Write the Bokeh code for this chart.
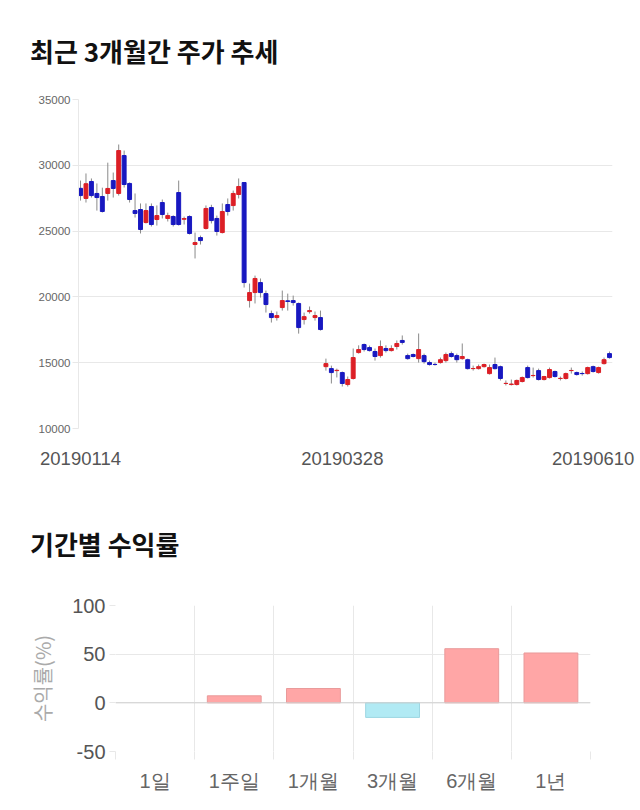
from bokeh.plotting import figure
from bokeh.models import ColumnDataSource, FixedTicker, Div, Span, Range1d
from bokeh.layouts import column
from bokeh.embed import file_html
from bokeh.resources import INLINE

# ---- data: daily candles ----
opens = [28250, 27480, 28770, 27860, 27630, 27860, 28840, 27860, 30740, 28620,
         26560, 26640, 25650, 26870, 25880, 27170, 25960, 26110, 27930, 25900,
         26110, 23980, 24510, 25200, 26790, 25960, 24890, 27020, 26940, 27780,
         28690, 19720, 20330, 21090, 20250, 18730, 18430, 19190, 19700, 19720,
         19500, 18280, 18880, 18430, 18430, 14700, 14550, 14400, 14250, 13340,
         13800, 15770, 16380, 16150, 15850, 15540, 16080, 15920, 16230, 16690,
         15540, 15620, 15310, 15540, 15010, 14870, 15010, 15160, 15690, 15540,
         15310, 15230, 14550, 14550, 14700, 14170, 14860, 14700, 13420, 13340,
         13340, 13570, 14630, 14020, 14400, 13720, 13870, 14330, 13800, 13800,
         14400, 14250, 14180, 14170, 14700, 14250, 14930, 15690]
closes = [27700, 28600, 27700, 27550, 26490, 28240, 28240, 31120, 28540, 27400,
          26340, 25120, 26560, 25500, 26180, 26260, 26180, 25500, 25500, 25950,
          24820, 24130, 24280, 26720, 25800, 24970, 26490, 26490, 27860, 28390,
          21090, 20330, 21400, 20330, 19420, 18430, 18580, 19720, 19650, 19570,
          17670, 18500, 18960, 18580, 17520, 14930, 14250, 14420, 13420, 13720,
          15390, 16000, 16000, 15920, 15470, 16230, 15920, 16080, 16460, 16540,
          15310, 15470, 16000, 15080, 14860, 14860, 15230, 15620, 15470, 15230,
          15470, 14550, 14560, 14700, 14860, 14630, 14550, 13800, 13430, 13380,
          13650, 13870, 13870, 14030, 13720, 13950, 14480, 13950, 13810, 14170,
          14410, 14100, 14170, 14630, 14330, 14630, 15230, 15390]
highs = [28840, 29380, 29000, 28620, 28300, 30200, 29450, 31580, 31120, 28700,
         27860, 27100, 27100, 27100, 26950, 27400, 26400, 26200, 28840, 26100,
         26200, 24890, 24660, 26950, 27000, 26180, 27100, 27480, 28080, 29000,
         28690, 21010, 21620, 21400, 20480, 18960, 18890, 20480, 20250, 20100,
         19570, 18810, 19270, 18890, 18960, 15310, 14780, 14550, 14330, 13950,
         16080, 16320, 16460, 16300, 16080, 16690, 16320, 16320, 16690, 17070,
         15690, 15700, 17220, 15690, 15160, 15010, 15390, 15770, 15850, 15690,
         16460, 15310, 14780, 14860, 14930, 14860, 15390, 14780, 13650, 13720,
         13720, 13950, 14780, 14630, 14550, 14000, 14630, 14400, 13950, 14250,
         14630, 14330, 14330, 14700, 14780, 14700, 15390, 15850]
lows = [27320, 27170, 27550, 26560, 26410, 27320, 27550, 27700, 28310, 27170,
        26030, 24820, 25580, 25350, 25420, 25960, 25730, 25350, 25420, 25500,
        24740, 22920, 23980, 25120, 25580, 24660, 24820, 26180, 26560, 27480,
        20710, 19190, 19500, 19950, 18810, 18050, 18200, 18960, 18960, 19340,
        17210, 17900, 18730, 18200, 17440, 14400, 13420, 13880, 13190, 13190,
        13720, 15690, 15850, 15850, 15160, 15390, 15770, 15850, 16000, 16380,
        15230, 15400, 15010, 14930, 14780, 14780, 14930, 15010, 15390, 15010,
        15230, 14480, 14400, 14480, 14630, 14100, 14480, 13650, 13270, 13270,
        13270, 13500, 13800, 13870, 13650, 13650, 13800, 13870, 13650, 13720,
        14170, 14020, 14020, 14100, 14250, 14170, 14860, 15310]
x_tick_labels = ["20190114", "20190328", "20190610"]
x_tick_index = [0, 48, 94]
price_ticks = [10000, 15000, 20000, 25000, 30000, 35000]

# ---- data: period returns ----
periods = ["1일", "1주일", "1개월", "3개월", "6개월", "1년"]
returns = [0, 7.2, 14.7, -15.0, 55.6, 51.2]
return_ticks = [-50, 0, 50, 100]

UP, DOWN = "#dc1f26", "#1818c0"
n = len(opens)
xs = list(range(n))
src = ColumnDataSource(dict(
    x=xs, high=highs, low=lows,
    top=[max(o, c) for o, c in zip(opens, closes)],
    bottom=[min(o, c) for o, c in zip(opens, closes)],
    color=[UP if c >= o else DOWN for o, c in zip(opens, closes)],
))

def title_div(text, h, pad_top):
    return Div(text=f'<div style="font-family:\'Noto Sans CJK KR\';font-size:26px;font-weight:bold;'
                    f'color:#111;padding-left:30px;padding-top:{pad_top}px;white-space:nowrap">{text}</div>',
               width=640, height=h, margin=(0, 0, 0, 0))

d1 = title_div("최근 3개월간 주가 추세", 90, 32)

p1 = figure(width=640, height=398, x_range=Range1d(-0.37, n - 0.45), y_range=Range1d(10000, 35000),
            output_backend="svg", toolbar_location=None,
            min_border_left=78, min_border_right=28, min_border_top=9, min_border_bottom=60)
p1.outline_line_color = None
p1.segment(x0="x", y0="high", x1="x", y1="low", source=src, line_color="#8a8a8a", line_width=1)
p1.vbar(x="x", width=0.72, top="top", bottom="bottom", source=src,
        fill_color="color", line_color="color", line_width=1)
p1.xgrid.grid_line_color = None
p1.ygrid.grid_line_color = "#e8e8e8"
p1.ygrid.ticker = FixedTicker(ticks=price_ticks)
ya = p1.yaxis[0]
ya.ticker = FixedTicker(ticks=price_ticks)
ya.axis_line_color = "#e8e8e8"
ya.major_tick_out = 6
ya.major_tick_in = 0
ya.major_tick_line_color = "#e8e8e8"
ya.minor_tick_line_color = None
ya.major_label_standoff = 2
ya.major_label_text_font = "Liberation Sans"
ya.major_label_text_font_size = "11.5px"
ya.major_label_text_color = "#666666"
xa = p1.xaxis[0]
xa.ticker = FixedTicker(ticks=x_tick_index)
xa.major_label_overrides = {i: s for i, s in zip(x_tick_index, x_tick_labels)}
xa.axis_line_color = None
xa.major_tick_line_color = None
xa.minor_tick_line_color = None
xa.major_tick_out = 0
xa.major_label_standoff = 23
xa.major_label_text_font = "Liberation Sans"
xa.major_label_text_font_size = "18.5px"
xa.major_label_text_color = "#555555"

d2 = title_div("기간별 수익률", 100, 37)

p2 = figure(width=640, height=222, x_range=Range1d(0, len(periods)), y_range=Range1d(-50, 100),
            output_backend="svg", toolbar_location=None,
            min_border_left=115, min_border_right=50, min_border_top=17, min_border_bottom=59)
p2.outline_line_color = None
centers = [i + 0.5 for i in range(len(periods))]
bsrc = ColumnDataSource(dict(
    x=centers, top=returns,
    fill=["#ffa6a6" if r >= 0 else "#b1eaf4" for r in returns],
    line=["rgba(0,0,0,0)" if r == 0 else ("#e99a9a" if r > 0 else "#9dd6e2") for r in returns],
))
p2.vbar(x="x", width=0.68, top="top", bottom=0, source=bsrc, fill_color="fill", line_color="line", line_width=1)
p2.add_layout(Span(location=0, dimension="width", line_color="#d0d0d0", line_width=1))
p2.xgrid.ticker = FixedTicker(ticks=list(range(len(periods) + 1)))
p2.xgrid.grid_line_color = "#e8e8e8"
p2.ygrid.ticker = FixedTicker(ticks=return_ticks)
p2.ygrid.grid_line_color = "#e8e8e8"
xb = p2.xaxis[0]
xb.ticker = FixedTicker(ticks=centers, minor_ticks=list(range(len(periods) + 1)))
xb.major_label_overrides = {c: s for c, s in zip(centers, periods)}
xb.axis_line_color = None
xb.major_tick_line_color = None
xb.major_tick_out = 0
xb.minor_tick_out = 8
xb.minor_tick_in = 0
xb.minor_tick_line_color = "#e8e8e8"
xb.major_label_standoff = 10
xb.major_label_text_font = "Liberation Sans"
xb.major_label_text_font_size = "20px"
xb.major_label_text_color = "#666666"
yb = p2.yaxis[0]
yb.ticker = FixedTicker(ticks=return_ticks)
yb.major_label_overrides = {t: str(t) for t in return_ticks}
yb.axis_line_color = None
yb.major_tick_out = 6
yb.major_tick_in = 0
yb.major_tick_line_color = "#e8e8e8"
yb.minor_tick_line_color = None
yb.major_label_standoff = 4
yb.major_label_text_font = "Liberation Sans"
yb.major_label_text_font_size = "20px"
yb.major_label_text_color = "#555555"
yb.axis_label = "수익률(%)"
yb.axis_label_text_font = "Noto Sans CJK KR"
yb.axis_label_text_font_size = "20px"
yb.axis_label_text_font_style = "normal"
yb.axis_label_text_color = "#aaaaaa"
yb.axis_label_standoff = 12

layout = column(column(d1, p1, spacing=0), column(d2, p2, spacing=0), spacing=0)
open("out.html", "w").write(file_html(layout, INLINE))
